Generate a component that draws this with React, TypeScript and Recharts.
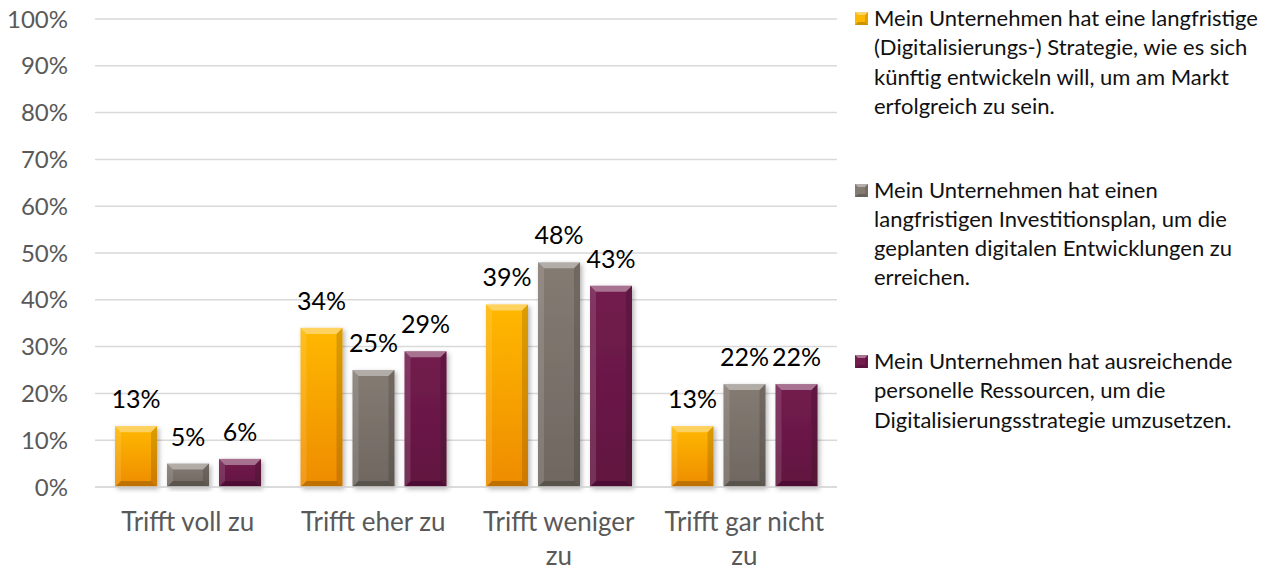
import { BarChart, Bar, XAxis, YAxis, CartesianGrid, LabelList } from 'recharts'

const categories = ['Trifft voll zu', 'Trifft eher zu', 'Trifft weniger zu', 'Trifft gar nicht zu']
const strategie = [13, 34, 39, 13]
const investition = [5, 25, 48, 22]
const ressourcen = [6, 29, 43, 22]
const yTicks = [0, 10, 20, 30, 40, 50, 60, 70, 80, 90, 100]

const seriesNames = [
  'Mein Unternehmen hat eine langfristige\n(Digitalisierungs-) Strategie, wie es sich\nkünftig entwickeln will, um am Markt\nerfolgreich zu sein.',
  'Mein Unternehmen hat einen\nlangfristigen Investitionsplan, um die\ngeplanten digitalen Entwicklungen zu\nerreichen.',
  'Mein Unternehmen hat ausreichende\npersonelle Ressourcen, um die\nDigitalisierungsstrategie umzusetzen.',
]

const FONT = 'Lato, "Open Sans", sans-serif'

type Palette = { id: string; top: string; bottom: string }

const palettes: Palette[] = [
  { id: 'gold', top: '#FFB800', bottom: '#EE8C00' },
  { id: 'taupe', top: '#847B73', bottom: '#6F6760' },
  { id: 'plum', top: '#731C4E', bottom: '#611540' },
]

const keys = ['strategie', 'investition', 'ressourcen'] as const

const data = categories.map((name, i) => ({
  name,
  strategie: strategie[i],
  investition: investition[i],
  ressourcen: ressourcen[i],
}))

function BevelBar(props: any) {
  const { x, y, width, height, paletteId } = props
  if (!height || height <= 0) return null
  const b = Math.min(6, height / 2, width / 2)
  const r = x + width
  const btm = y + height
  return (
    <g filter="url(#barShadow)">
      <rect x={x} y={y} width={width} height={height} fill={`url(#grad-${paletteId})`} />
      <polygon
        points={`${x},${y} ${r},${y} ${r - b},${y + b} ${x + b},${y + b}`}
        fill="#ffffff"
        fillOpacity={0.38}
      />
      <polygon
        points={`${x},${y} ${x + b},${y + b} ${x + b},${btm - b} ${x},${btm}`}
        fill="#ffffff"
        fillOpacity={0.12}
      />
      <polygon
        points={`${r},${y} ${r - b},${y + b} ${r - b},${btm - b} ${r},${btm}`}
        fill="#000000"
        fillOpacity={0.14}
      />
      <polygon
        points={`${x},${btm} ${x + b},${btm - b} ${r - b},${btm - b} ${r},${btm}`}
        fill="#000000"
        fillOpacity={0.2}
      />
    </g>
  )
}

function CategoryTick(props: any) {
  const { x, y, payload } = props
  const words = String(payload.value).split(' ')
  const lines: string[] = []
  let cur = ''
  for (const w of words) {
    const next = cur ? `${cur} ${w}` : w
    if (next.length > 16 && cur) {
      lines.push(cur)
      cur = w
    } else {
      cur = next
    }
  }
  if (cur) lines.push(cur)
  return (
    <text x={x} y={y} textAnchor="middle" fill="#595959" fontSize={26} fontFamily={FONT}>
      {lines.map((l, i) => (
        <tspan key={i} x={x} dy={i === 0 ? 44 : 34}>
          {l}
        </tspan>
      ))}
    </text>
  )
}

function LegendIcon({ p }: { p: Palette }) {
  return (
    <svg width={13} height={13} style={{ position: 'absolute', left: 0, top: 9 }}>
      <rect x={0} y={0} width={13} height={13} fill={p.top} />
      <polygon points="0,0 13,0 10,3 3,3" fill="#fff" fillOpacity={0.4} />
      <polygon points="0,13 3,10 10,10 13,13" fill="#000" fillOpacity={0.2} />
      <polygon points="13,0 10,3 10,10 13,13" fill="#000" fillOpacity={0.12} />
    </svg>
  )
}

export default function App() {
  return (
    <div style={{ position: 'absolute', left: 0, top: 0, width: 1281, height: 571, background: '#fff' }}>
      <BarChart
        width={1281}
        height={571}
        data={data}
        margin={{ top: 19, right: 444, left: 0, bottom: 0 }}
        barSize={42}
        barGap={10}
      >
        <defs>
          {palettes.map(p => (
            <linearGradient key={p.id} id={`grad-${p.id}`} x1="0" y1="0" x2="0" y2="1">
              <stop offset="0%" stopColor={p.top} />
              <stop offset="100%" stopColor={p.bottom} />
            </linearGradient>
          ))}
          <filter id="barShadow" x="-20%" y="-10%" width="150%" height="130%">
            <feDropShadow dx={2} dy={2} stdDeviation={2.5} floodColor="#000" floodOpacity={0.3} />
          </filter>
        </defs>
        <CartesianGrid vertical={false} stroke="#d9d9d9" strokeWidth={1.5} />
        <XAxis
          dataKey="name"
          height={84}
          tickLine={false}
          axisLine={{ stroke: '#d9d9d9', strokeWidth: 1.5 }}
          tick={<CategoryTick />}
          interval={0}
          tickSize={0}
          tickMargin={0}
        />
        <YAxis
          domain={[0, 100]}
          ticks={yTicks}
          width={95}
          axisLine={false}
          tickLine={false}
          tickSize={0}
          tickMargin={27}
          tickFormatter={(v: number) => `${v}%`}
          tick={{ fontSize: 24, fill: '#595959', fontFamily: FONT }}
        />
        {keys.map((k, i) => (
          <Bar
            key={k}
            dataKey={k}
            name={seriesNames[i]}
            isAnimationActive={false}
            fill={palettes[i].top}
            shape={(props: any) => <BevelBar {...props} paletteId={palettes[i].id} />}
          >
            <LabelList
              dataKey={k}
              position="top"
              offset={18}
              formatter={(v: any) => `${v}%`}
              style={{ fontSize: 25, fill: '#000', fontFamily: FONT }}
            />
          </Bar>
        ))}
      </BarChart>
      <div style={{ position: 'absolute', left: 855, top: 3, width: 426, fontFamily: FONT, color: '#111' }}>
        {seriesNames.map((n, i) => (
          <div key={i} style={{ position: 'relative', height: 171.5 }}>
            <LegendIcon p={palettes[i]} />
            <div style={{ marginLeft: 19, fontSize: 22, lineHeight: '29.3px', whiteSpace: 'pre-line' }}>{n}</div>
          </div>
        ))}
      </div>
    </div>
  )
}
